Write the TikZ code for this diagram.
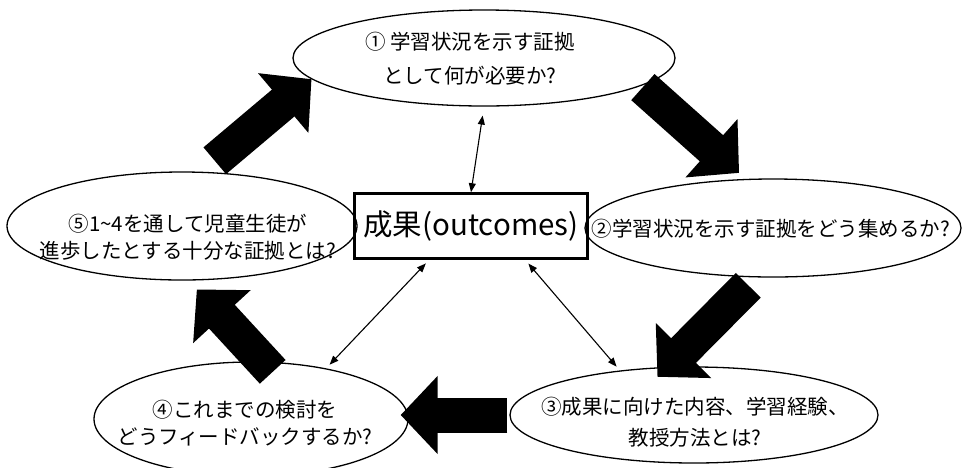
\documentclass[tikz,border=0pt]{standalone}
\usepackage{fontspec}
\setmainfont{Noto Sans CJK JP}
\usetikzlibrary{arrows.meta,shapes.geometric}

\tikzset{
  oval/.style={draw, ellipse, line width=1.3pt, inner sep=0pt},
  lbl/.style={align=center, font=\fontsize{20.5}{#1}\selectfont},
  outbox/.style={draw, line width=2.6pt, minimum width=233pt, minimum height=65pt,
    inner sep=0pt, font=\fontsize{29.5}{32}\selectfont},
  fat/.style={line width=35pt, -{Triangle[length=37pt,width=76pt]}},
  link/.style={line width=1.1pt, {Triangle[length=9pt,width=7pt]}-{Triangle[length=9pt,width=7pt]}}
}

\begin{document}
\begin{tikzpicture}
  [x=1pt, y=-1pt]
  \useasboundingbox (0,0) rectangle (963,467);

  % the five questions
  \node[oval, minimum width=382pt, minimum height=96pt] (e1) at (484,58) {};
  \node[oval, minimum width=376pt, minimum height=98pt] (e2) at (773,228) {};
  \node[oval, minimum width=368pt, minimum height=96pt] (e3) at (694,415) {};
  \node[oval, minimum width=314pt, minimum height=114pt] (e4) at (251,419) {};
  \node[oval, minimum width=350pt, minimum height=108pt] (e5) at (182,226) {};

  \node[lbl=34] (t1) at (470,59) {① 学習状況を示す証拠\\として何が必要か?};
  \node[lbl=30] (t2) at (771,229) {②学習状況を示す証拠をどう集めるか?};
  \node[lbl=31] (t3) at (695,422) {③成果に向けた内容、学習経験、\\教授方法とは?};
  \node[lbl=27] (t4) at (245,423) {④これまでの検討を\\どうフィードバックするか?};
  \node[lbl=27] (t5) at (188,237) {⑤1\textasciitilde 4を通して児童生徒が\\進歩したとする十分な証拠とは?};

  \node[outbox] (box) at (471,226) {成果(outcomes)};

  % cycle
  \draw[fat, shorten <=17pt] (e5.70) -- (e1.187);
  \draw[fat, shorten <=2pt, shorten >=9pt] (e1.-10) -- (e2.119);
  \draw[fat, shorten <=11pt, shorten >=-14pt] (e2.251) -- (e3.119);
  \draw[fat, shorten <=2pt, shorten >=-8pt] (e3.west) -- (e3.west -| e4.east);
  \draw[fat, shorten <=-14pt, shorten >=12pt] (e4.78) -- (e5.277);

  \foreach \from/\to/\sa/\sb in {box.north/e1.south/0/9, box.219/e4.34/5/5, box.328/e3.149/5/5}
    \draw[link, shorten <=\sa pt, shorten >=\sb pt] (\from) -- (\to);
\end{tikzpicture}
\end{document}
